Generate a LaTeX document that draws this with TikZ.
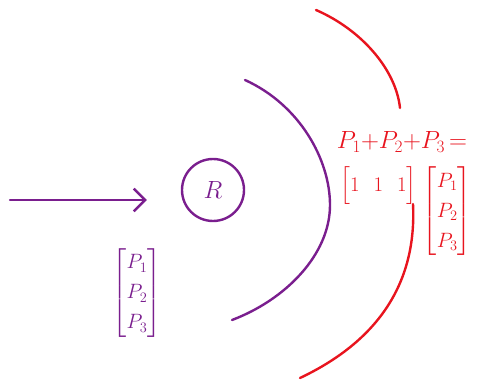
\documentclass[tikz,border=0pt]{standalone}
\usepackage{amsmath,amssymb}
\usepackage{xcolor}
\usepackage{tikz}
\usetikzlibrary{arrows.meta,positioning}
\definecolor{plum}{HTML}{7A1E8E}
\definecolor{ink}{HTML}{E8141E}
\tikzset{
  stroke/.style={line width=2.4pt,line cap=round,line join=round},
  arr/.style={stroke,color=plum,-{Straight Barb[length=4mm,width=8mm]}},
  big/.style={font=\fontsize{25}{28}\selectfont,inner sep=0pt},
  vec/.style={font=\fontsize{21}{30}\selectfont,inner sep=0pt}
}

\begin{document}
\begin{tikzpicture}[x=1pt,y=-1pt]
  \useasboundingbox (0,0) rectangle (477,382);
  \coordinate (src) at (10,200);
  \node[draw=plum,stroke,circle,minimum size=62pt,inner sep=0pt,text=plum,font=\fontsize{28}{30}\selectfont] (R) at (213,190) {$R$};
  \draw[arr,shorten >=34pt] (src) -- (src -| R.west);
  \node[vec,text=plum] (xin) at (137,293) {$\begin{bmatrix}P_1\\P_2\\P_3\end{bmatrix}$};
  \draw[stroke,plum] (245,80) .. controls (300,105) and (330,160) .. (330,205)
    .. controls (330,255) and (285,300) .. (232,320);
  \draw[stroke,ink] (316,10) .. controls (362,30) and (396,70) .. (400,108);
  \draw[stroke,ink] (413,204) .. controls (417,285) and (376,342) .. (300,378);
  \node[big,text=ink] (sum) at (402,142) {$P_1{+}P_2{+}P_3\,{=}$};
  \node[vec,text=ink,anchor=north west] (ones) at (340,166) {\arraycolsep=7pt$\begin{bmatrix}1&1&1\end{bmatrix}$};
  \node[vec,text=ink,right=6pt of ones.north east,anchor=north west] (xout) {$\begin{bmatrix}P_1\\P_2\\P_3\end{bmatrix}$};
\end{tikzpicture}
\end{document}
